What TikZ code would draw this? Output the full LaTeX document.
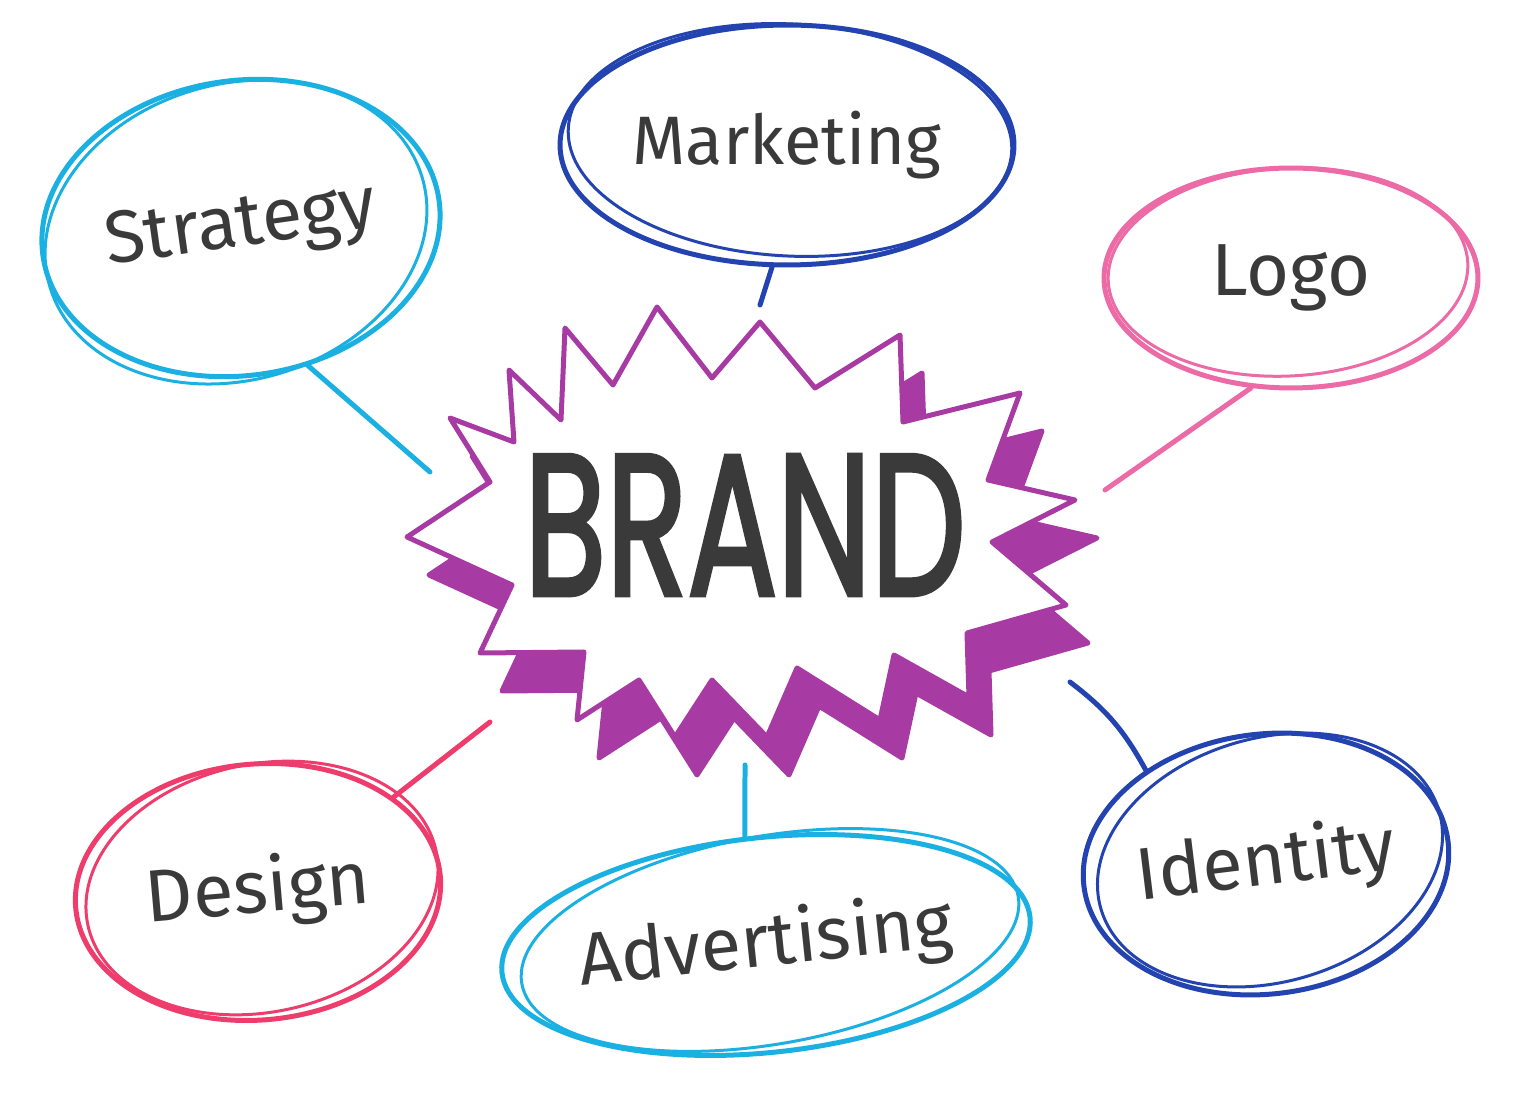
\documentclass[tikz,border=0pt]{standalone}
\usepackage{fontspec}
\setmainfont{Fira Sans}
\newfontfamily\brandfont{Poppins}[FakeBold=2.5]
\usetikzlibrary{shapes.geometric}

\definecolor{cyanline}{HTML}{1BB0E2}
\definecolor{navyline}{HTML}{2343B0}
\definecolor{pinkline}{HTML}{EC6AA6}
\definecolor{redline}{HTML}{EE3D6C}
\definecolor{starpurple}{HTML}{A83BA3}
\definecolor{inkgray}{HTML}{3A3A3A}

\begin{document}
\begin{tikzpicture}[
    x=0.02cm, y=-0.02cm,
    topic/.style={ellipse, draw, line width=0.1cm, inner sep=0pt, text=inkgray, font=\fontsize{42}{42}\selectfont},
    sketch/.style={line width=0.06cm},
    link/.style={line width=0.1cm, line cap=round},
    burstshape/.pic={
        \path[pic actions] (657,307) -- (613,385) -- (565,328) -- (561,420) -- (509,370) -- (514,442)
            -- (450,418) -- (490,482) -- (407,537) -- (512,585) -- (480,653) -- (584,652)
            -- (577,720) -- (639,680) -- (675,737) -- (712,680) -- (767,737) -- (797,668)
            -- (880,720) -- (894,655) -- (969,697) -- (967,633) -- (1066,605) -- (992,542)
            -- (1075,500) -- (988,480) -- (1020,393) -- (903,422) -- (900,335) -- (815,388)
            -- (760,322) -- (712,378) -- cycle;
    }
]

\useasboundingbox (0,0) rectangle (1536,1097);

% Center burst
\pic[fill=starpurple, draw=starpurple, line width=0.1cm, line join=round] at (22,38) {burstshape};
\pic[fill=white, draw=starpurple, line width=0.1cm, line join=round] at (0,0) {burstshape};
\node[font=\brandfont\fontsize{76}{76}\selectfont, text=inkgray, yscale=1.5] (brand) at (745,525) {BRAND};

% Topics
\node[topic, draw=cyanline, minimum width=8cm, minimum height=5.9cm, rotate=8] (strategy) at (241,228) {Strategy};
\node[topic, draw=navyline, minimum width=9.08cm, minimum height=4.8cm, rotate=0, font=\fontsize{39}{39}\selectfont] (marketing) at (787,145) {Marketing};
\node[topic, draw=pinkline, minimum width=7.48cm, minimum height=4.4cm, rotate=0] (logo) at (1291,278) {Logo};
\node[topic, draw=redline, minimum width=7.32cm, minimum height=5.12cm, rotate=5] (design) at (258,892) {Design};
\node[topic, draw=cyanline, minimum width=10.3cm, minimum height=4.3cm, rotate=6] (advertising) at (766,945) {Advertising};
\node[topic, draw=navyline, minimum width=7.32cm, minimum height=5.2cm, rotate=7] (identity) at (1266,864) {Identity};

% Second pen strokes
\draw[sketch, cyanline, rotate around={16:(236,232)}] (236,232) ellipse [x radius=194, y radius=148];
\draw[sketch, navyline, rotate around={-3:(790,140)}] (790,140) ellipse [x radius=222, y radius=116];
\draw[sketch, pinkline, rotate around={3:(1288,272)}] (1288,272) ellipse [x radius=180, y radius=104];
\draw[sketch, redline, rotate around={12:(262,888)}] (262,888) ellipse [x radius=178, y radius=124];
\draw[sketch, cyanline, rotate around={10:(770,940)}] (770,940) ellipse [x radius=252, y radius=104];
\draw[sketch, navyline, rotate around={16:(1270,860)}] (1270,860) ellipse [x radius=176, y radius=122];

% Connectors
\coordinate (strategy-end) at (430,472);
\coordinate (marketing-end) at (760,305);
\coordinate (logo-end) at (1105,490);
\coordinate (design-end) at (490,722);
\coordinate (advertising-end) at (745,765);
\coordinate (identity-end) at (1070,682);

\draw[link, cyanline] (strategy.-72) -- (strategy-end);
\draw[link, navyline] (marketing.-97) -- (marketing-end);
\draw[link, pinkline] (logo.-110) -- (logo-end);
\draw[link, redline] (design.30) -- (design-end);
\draw[link, cyanline] (advertising.95) -- (advertising-end);
\draw[link, navyline] (identity.135) to[bend right=12] (identity-end);

\end{tikzpicture}
\end{document}
